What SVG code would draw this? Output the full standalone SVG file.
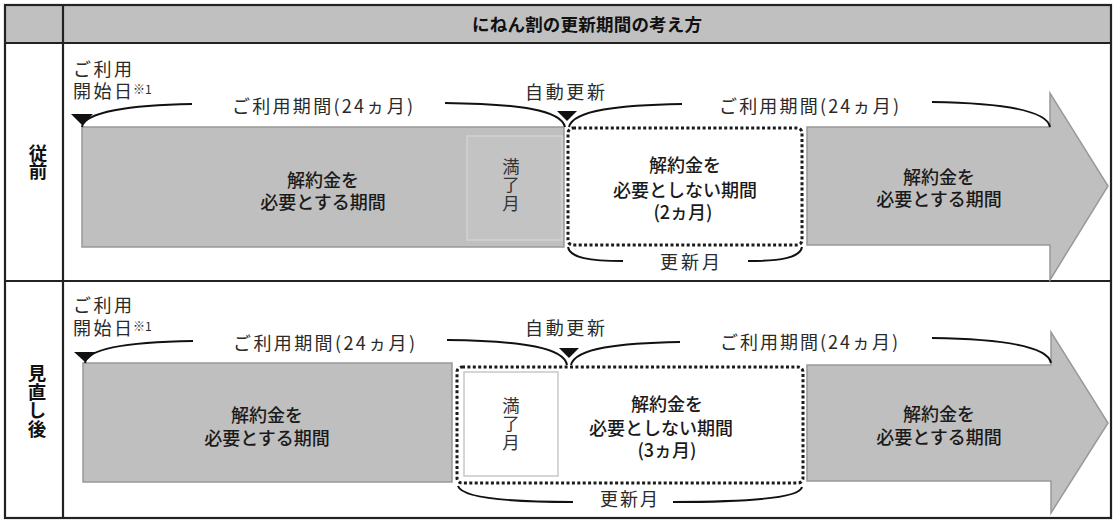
<svg xmlns="http://www.w3.org/2000/svg" width="1116" height="526" viewBox="0 0 1116 526">
<style>
text{font-family:"Noto Sans CJK JP","Noto Sans CJK SC",sans-serif;}
.lbl{font-size:18px;fill:#2a2a2a;}
.sup{font-size:12px;}
.body{font-size:18px;fill:#1a1a1a;font-weight:500;text-anchor:middle;}
.side{font-size:18.5px;fill:#111;font-weight:bold;text-anchor:middle;writing-mode:vertical-rl;}
.head{font-size:17.5px;fill:#111;font-weight:bold;}
.gray{fill:#bfbfbf;stroke:#999;stroke-width:1.5;}
.dot{fill:#fff;stroke:#1a1a1a;stroke-width:3;stroke-dasharray:3 2.4;}
.brace{fill:none;stroke:#111;stroke-width:2;}
.tri{fill:#111;}
.grid{stroke:#222;stroke-width:2.2;fill:none;}
.vt{font-size:17.5px;fill:#333;text-anchor:middle;writing-mode:vertical-rl;letter-spacing:1px;}
</style>

<g id="table">
  <rect x="5" y="5" width="1106" height="38" fill="#c0c0c0"/>
  <rect class="grid" x="5" y="5" width="1106" height="513"/>
  <line class="grid" x1="63" y1="5" x2="63" y2="518"/>
  <line class="grid" x1="5" y1="43" x2="1111" y2="43"/>
  <line class="grid" x1="5" y1="281" x2="1111" y2="281"/>
  <text class="head" x="472" y="31" textLength="230" lengthAdjust="spacing">にねん割の更新期間の考え方</text>
</g>

<g id="label-before">
  <text class="side" x="38" y="162">従前</text>
</g>
<g id="label-after">
  <text class="side" x="37" y="401">見直し後</text>
</g>

<!-- Row 1: before -->
<g id="before-start">
  <text class="lbl" x="73" y="76"><tspan x="73" y="76" textLength="59" lengthAdjust="spacing">ご利用</tspan><tspan x="73" y="98" textLength="59" lengthAdjust="spacing">開始日</tspan><tspan class="sup" x="133" y="94">※1</tspan></text>
</g>
<g id="before-paid1">
  <rect class="gray" x="82" y="127" width="482" height="120"/>
  <rect x="467" y="136" width="95" height="104" fill="#c3c3c3" stroke="#d2d2d2" stroke-width="1.5"/>
  <text class="vt" x="511" y="185">満了月</text>
  <text class="body" x="323" y="187"><tspan x="323" y="187">解約金を</tspan><tspan x="323" y="209">必要とする期間</tspan></text>
</g>
<g id="before-free">
  <rect class="dot" x="568" y="128" width="234" height="117" rx="5"/>
  <text class="body" x="685" y="172"><tspan x="685" y="172">解約金を</tspan><tspan x="685" y="197">必要としない期間</tspan><tspan x="683" y="219">(2ヵ月)</tspan></text>
</g>
<g id="before-paid2">
  <polygon class="gray" points="807,127 1050,127 1050,93 1108,186 1050,280 1050,245 807,245"/>
  <text class="body" x="939" y="184"><tspan x="939" y="184">解約金を</tspan><tspan x="939" y="206">必要とする期間</tspan></text>
</g>

<!-- Row 2: after -->
<g id="after-start">
  <text class="lbl" x="73" y="312"><tspan x="73" y="312" textLength="59" lengthAdjust="spacing">ご利用</tspan><tspan x="73" y="335" textLength="59" lengthAdjust="spacing">開始日</tspan><tspan class="sup" x="133" y="331">※1</tspan></text>
</g>
<g id="after-paid1">
  <rect class="gray" x="83" y="363" width="369" height="119"/>
  <text class="body" x="267" y="422"><tspan x="267" y="422">解約金を</tspan><tspan x="267" y="445">必要とする期間</tspan></text>
</g>
<g id="after-free">
  <rect class="dot" x="457" y="367" width="346" height="116" rx="5"/>
  <rect x="464" y="372" width="94" height="104" fill="#fff" stroke="#c8c8c8" stroke-width="1.5"/>
  <text class="vt" x="511" y="424">満了月</text>
  <text class="body" x="667" y="411"><tspan x="667" y="411">解約金を</tspan><tspan x="661" y="435">必要としない期間</tspan><tspan x="667" y="457">(3ヵ月)</tspan></text>
</g>
<g id="after-paid2">
  <polygon class="gray" points="807,365 1051,365 1051,332 1108,423 1051,513 1051,481 807,481"/>
  <text class="body" x="939" y="421"><tspan x="939" y="421">解約金を</tspan><tspan x="939" y="444">必要とする期間</tspan></text>
</g>

<!-- connectors: braces and markers -->
<g id="connectors">
  <!-- row 1 -->
  <polygon class="tri" points="71,114 93,114 82,125"/>
  <polygon class="tri" points="557,111 577,111 567,121"/>
  <path class="brace" d="M82,127 C84,112 130,105 192,104"/>
  <path class="brace" d="M445,103 C520,104 561,110 565,127"/>
  <path class="brace" d="M569,127 C573,110 620,105 682,104"/>
  <path class="brace" d="M932,102 C1000,103 1047,110 1050,127"/>
  <path class="brace" d="M568,247 C570,258 590,261 623,261"/>
  <path class="brace" d="M748,261 C780,261 800,258 802,247"/>
  <text class="lbl" x="232" y="113" textLength="181" lengthAdjust="spacing">ご利用期間(24ヵ月)</text>
  <text class="lbl" x="525" y="99" textLength="80" lengthAdjust="spacing">自動更新</text>
  <text class="lbl" x="719" y="113" textLength="180" lengthAdjust="spacing">ご利用期間(24ヵ月)</text>
  <text class="lbl" x="660" y="269" textLength="60" lengthAdjust="spacing">更新月</text>
  <!-- row 2 -->
  <polygon class="tri" points="74,352 96,352 85,362"/>
  <polygon class="tri" points="559,348 579,348 569,358"/>
  <path class="brace" d="M85,363 C87,348 130,342 193,341"/>
  <path class="brace" d="M447,340 C525,341 564,348 567,365"/>
  <path class="brace" d="M571,365 C575,348 620,343 680,342"/>
  <path class="brace" d="M932,338 C1000,339 1048,346 1051,363"/>
  <path class="brace" d="M458,486 C462,499 520,502 573,502"/>
  <path class="brace" d="M673,502 C740,502 800,499 802,487"/>
  <text class="lbl" x="233" y="350" textLength="182" lengthAdjust="spacing">ご利用期間(24ヵ月)</text>
  <text class="lbl" x="525" y="335" textLength="80" lengthAdjust="spacing">自動更新</text>
  <text class="lbl" x="720" y="349" textLength="178" lengthAdjust="spacing">ご利用期間(24ヵ月)</text>
  <text class="lbl" x="600" y="506" textLength="58" lengthAdjust="spacing">更新月</text>
</g>
</svg>
